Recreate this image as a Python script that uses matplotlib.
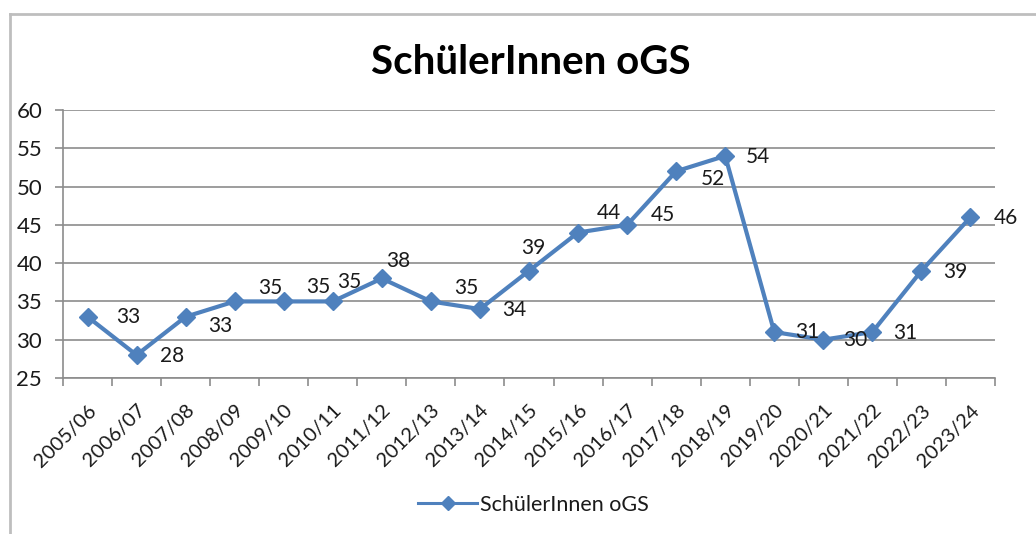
import matplotlib
matplotlib.use("Agg")
import matplotlib.pyplot as plt
from matplotlib.lines import Line2D

# data
years = ["2005/06", "2006/07", "2007/08", "2008/09", "2009/10", "2010/11",
         "2011/12", "2012/13", "2013/14", "2014/15", "2015/16", "2016/17",
         "2017/18", "2018/19", "2019/20", "2020/21", "2021/22", "2022/23",
         "2023/24"]
students = [33, 28, 33, 35, 35, 35, 38, 35, 34, 39, 44, 45, 52, 54, 31, 30, 31, 39, 46]
series_name = "SchülerInnen oGS"

# label offsets in pixels (dx, dy up)
label_offsets = [(41, 0), (35, -1), (35, -9), (36, 13), (35, 14), (16, 19),
                 (16, 17), (35, 13), (34, -1), (4, 23), (31, 20), (36, 10),
                 (37, -8), (33, -1), (33, 0), (32, 0), (33, -1), (34, -1),
                 (35, -1)]

BLUE = "#4F81BD"
GRAY = "#8C8C8C"
TXT = "#1a1a1a"

plt.rcParams["font.family"] = ["Lato", "DejaVu Sans"]

fig = plt.figure(figsize=(10.36, 5.34), dpi=100)
ax = fig.add_axes([63 / 1036, 1 - 378 / 534, (995 - 63) / 1036, (378 - 110) / 534])

x = list(range(len(years)))
ax.plot(x, students, color=BLUE, lw=3, marker="D", ms=9, mfc=BLUE, mec=BLUE,
        label=series_name, zorder=3, solid_joinstyle="round")

for xi, v, (dx, dy) in zip(x, students, label_offsets):
    ax.annotate(str(v), (xi, v), xytext=(dx, dy), textcoords="offset pixels",
                ha="center", va="center", fontsize=15, color=TXT, zorder=4)

ax.set_xlim(-0.5, len(years) - 0.5)
ax.set_ylim(25, 60)
ax.set_yticks(range(25, 61, 5))
ax.yaxis.grid(True, color=GRAY, lw=1.2)
ax.set_axisbelow(True)

# category labels at centres, tick marks at boundaries
ax.set_xticks(x)
ax.set_xticklabels(years, rotation=45, ha="right", rotation_mode="anchor",
                   fontsize=14.5, color=TXT)
ax.tick_params(axis="x", which="major", length=0, pad=17)
ax.set_xticks([i - 0.5 for i in range(len(years) + 1)], minor=True)
ax.tick_params(axis="x", which="minor", length=6, color=GRAY, width=1.2)
ax.tick_params(axis="y", length=6, color=GRAY, width=1.2, labelsize=16,
               labelcolor=TXT, pad=9)

for side in ["top", "right"]:
    ax.spines[side].set_visible(False)
for side in ["left", "bottom"]:
    ax.spines[side].set_color(GRAY)
    ax.spines[side].set_linewidth(1.2)

fig.text(0.512, 1 - 62 / 534, "SchülerInnen oGS", ha="center", va="center",
         fontsize=29, fontweight="bold", color="black")

handle = Line2D([], [], color=BLUE, lw=2.2, marker="D", ms=7)
fig.legend([handle], [series_name], loc="center", bbox_to_anchor=(0.515, 1 - 505 / 534),
           frameon=False, fontsize=15.5, handlelength=2.7, handletextpad=0.15,
           labelcolor=TXT)

# chart border (left and top visible in the crop)
fig.add_artist(Line2D([10 / 1036, 10 / 1036], [0, 1 - 14 / 534], color="#BEBEBE",
                      lw=2, transform=fig.transFigure))
fig.add_artist(Line2D([10 / 1036, 1], [1 - 14 / 534, 1 - 14 / 534], color="#BEBEBE",
                      lw=2, transform=fig.transFigure))

fig.savefig("out.png", dpi=100)
